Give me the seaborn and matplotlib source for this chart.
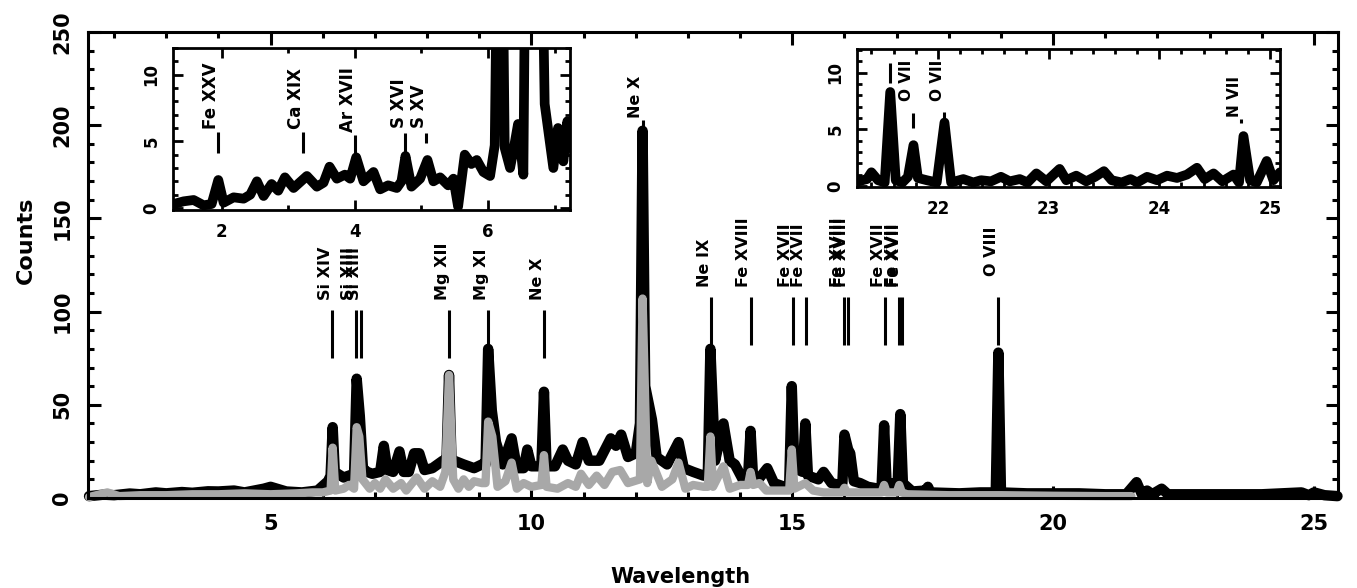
#!/usr/bin/env python3

"""X-ray spectrum with line identifications and two zoomed insets."""

import matplotlib

matplotlib.use("Agg")
import matplotlib.pyplot as plt
import seaborn as sns
from matplotlib.ticker import MultipleLocator

sns.set_theme(style="ticks")
plt.rcParams["font.family"] = ["DejaVu Sans"]
plt.rcParams["font.weight"] = "bold"
for key in ("text.color", "axes.labelcolor", "xtick.color", "ytick.color"):
    plt.rcParams[key] = "black"

# main spectrum (black)
wave_obs = [
    1.52, 1.8, 2.0, 2.3, 2.5, 2.8, 3.0, 3.3, 3.5, 3.8, 4.0, 4.3, 4.5, 4.87, 5.0,
    5.3, 5.6, 5.9, 6.1, 6.15, 6.19, 6.23, 6.40, 6.60, 6.65, 6.71, 6.77, 6.85,
    6.95, 7.10, 7.17, 7.24, 7.35, 7.47, 7.55, 7.65, 7.75, 7.85, 7.95, 8.10, 8.30,
    8.37, 8.42, 8.47, 8.52, 8.70, 8.90, 9.05, 9.12, 9.17, 9.24, 9.32, 9.45, 9.62,
    9.72, 9.85, 9.92, 10.0, 10.19, 10.24, 10.29, 10.45, 10.60, 10.70, 10.85,
    10.98, 11.1, 11.3, 11.52, 11.62, 11.72, 11.85, 12.0, 12.08, 12.13, 12.18,
    12.31, 12.40, 12.60, 12.82, 12.92, 13.1, 13.3, 13.38, 13.43, 13.52, 13.68,
    13.80, 13.90, 14.05, 14.15, 14.20, 14.25, 14.35, 14.52, 14.65, 14.85, 14.94,
    14.99, 15.04, 15.20, 15.25, 15.30, 15.40, 15.50, 15.60, 15.75, 15.90, 15.96,
    16.00, 16.07, 16.11, 16.18, 16.30, 16.45, 16.65, 16.71, 16.76, 16.81, 16.95,
    17.02, 17.07, 17.12, 17.30, 17.55, 17.60, 17.65, 18.2, 18.6, 18.9, 18.95,
    19.0, 19.5, 20.0, 20.5, 21.0, 21.4, 21.6, 21.7, 21.8, 21.9, 22.08, 22.2, 23.0,
    24.0, 24.76, 24.9, 25.0, 25.2, 25.45,
]
counts_obs = [
    1.0, 1.8, 1.5, 2.4, 2.0, 3.0, 2.5, 3.2, 2.8, 3.6, 3.5, 4.0, 3.0, 5.0, 6.0,
    3.5, 3.0, 4.0, 9.0, 12, 38, 14, 11, 13, 64, 44, 16, 14,
    13, 14, 28, 15, 14, 25, 14, 14, 24, 24, 15, 16, 20,
    19, 66, 19, 20, 18, 16, 18, 18, 80, 47, 30, 18, 32,
    16, 16, 26, 17, 17, 57, 17, 17, 26, 20, 18,
    30, 20, 20, 32, 28, 34, 22, 24, 40, 197, 60,
    42, 22, 18, 30, 16, 14, 12, 12, 80, 20, 40,
    20, 18, 10, 10, 36, 10, 10, 16, 8, 6, 7,
    60, 16, 14, 40, 12, 11, 10, 14, 8, 7, 8,
    34, 26, 24, 9, 8, 6, 5, 5, 39, 6, 8,
    8, 45, 8, 3.5, 4, 6, 3, 2.5, 3, 3, 78,
    3, 2.5, 2.5, 2.5, 2, 2, 8.5, 2, 4, 2, 5, 2, 2,
    2, 3, 1.5, 3, 1.5, 1.0,
]

# model spectrum (grey)
wave_model = [
    1.52, 1.87, 2.1, 2.5, 3.0, 3.5, 4.0, 4.5, 5.0, 5.5, 5.8, 6.0, 6.15, 6.19, 6.24,
    6.4, 6.5, 6.6, 6.65, 6.70, 6.76, 6.9, 7.0, 7.1, 7.2, 7.35, 7.5, 7.6, 7.8,
    7.95, 8.1, 8.25, 8.35, 8.42, 8.50, 8.60, 8.70, 8.8, 8.9, 9.05, 9.12, 9.17,
    9.25, 9.35, 9.5, 9.62, 9.72, 9.85, 10.0, 10.19, 10.24, 10.29, 10.5, 10.7,
    10.85, 10.95, 11.1, 11.25, 11.4, 11.55, 11.7, 11.85, 12.08, 12.13, 12.22,
    12.3, 12.4, 12.5, 12.7, 12.82, 12.95, 13.1, 13.3, 13.38, 13.43, 13.48, 13.68,
    13.8, 14.0, 14.15, 14.20, 14.25, 14.37, 14.5, 14.94, 14.99, 15.04, 15.25,
    15.4, 15.6, 15.95, 16.0, 16.05, 16.5, 16.71, 16.76, 16.81, 17.0, 17.05, 17.1,
    17.2, 18.0, 19.0, 20.0, 21.0, 21.5,
]
counts_model = [
    0.5, 3.0, 1.0, 1.5, 1.5, 2.0, 2.0, 2.5, 2.0, 2.5, 3.0, 3.0, 4.0, 27, 4.0,
    5, 7, 5, 38, 33, 10, 5, 8, 5, 10, 5, 8, 4, 11,
    5, 9, 6, 14, 66, 10, 5, 10, 6, 9, 8, 8, 41,
    33, 6, 9, 19, 5, 8, 6, 7, 23, 6, 5, 8,
    6, 13, 7, 12, 7, 14, 15, 8, 10, 107, 8,
    20, 13, 6, 10, 19, 5, 7, 6, 6, 33, 6, 17,
    5, 7, 7, 14, 7, 8, 4, 4, 26, 5, 8,
    4, 3, 3, 5.5, 3, 3, 3, 7, 3, 3, 7, 3,
    2, 1.5, 1.5, 1.2, 1.0, 1.0,
]

# short-wavelength inset
wave_short = [
    1.28, 1.43, 1.58, 1.73, 1.85, 1.95, 2.03, 2.18, 2.33, 2.43, 2.53, 2.63, 2.75,
    2.85, 2.95, 3.08, 3.28, 3.43, 3.53, 3.62, 3.73, 3.85, 3.93, 4.02, 4.13, 4.28,
    4.38, 4.50, 4.63, 4.70, 4.76, 4.85, 4.98, 5.09, 5.18, 5.28, 5.40, 5.48, 5.55,
    5.65, 5.75, 5.83, 5.93, 6.03, 6.10, 6.18, 6.25, 6.33, 6.38, 6.45, 6.53, 6.63,
    6.70, 6.78, 6.85, 6.98, 7.05, 7.13, 7.19, 7.23,
]
counts_short = [
    0.3, 0.5, 0.6, 0.2, 0.3, 2.1, 0.4, 0.8, 0.7, 1.0, 2.0, 0.9, 1.8,
    1.3, 2.3, 1.5, 2.4, 1.6, 1.9, 3.1, 2.2, 2.5, 2.2, 3.8, 2.0, 2.7,
    1.4, 1.7, 1.5, 2.0, 3.9, 1.6, 2.2, 3.6, 2.0, 2.3, 1.7, 2.2, 0.1,
    4.0, 3.3, 3.6, 2.7, 2.4, 4.7, 38, 4.5, 3.0, 4.3, 6.3, 2.5, 64,
    44, 30, 7.8, 3.0, 6.0, 3.5, 6.5, 4.5,
]

# long-wavelength inset
wave_long = [
    21.28, 21.36, 21.40, 21.46, 21.52, 21.57, 21.62, 21.68, 21.73, 21.78, 21.82,
    21.90, 21.99, 22.06, 22.12, 22.23, 22.32, 22.39, 22.48, 22.57, 22.65, 22.74,
    22.81, 22.89, 22.98, 23.10, 23.16, 23.25, 23.34, 23.42, 23.50, 23.57, 23.66,
    23.74, 23.80, 23.89, 23.98, 24.07, 24.16, 24.25, 24.34, 24.41, 24.49, 24.57,
    24.67, 24.72, 24.76, 24.82, 24.88, 24.97, 25.03, 25.09,
]
counts_long = [
    0.4, 0.6, 1.2, 0.5, 0.3, 8.3, 0.5, 0.3, 0.8, 3.6, 0.7,
    0.5, 0.3, 5.6, 0.3, 0.6, 0.3, 0.5, 0.4, 0.8, 0.4, 0.6,
    0.3, 1.1, 0.4, 1.5, 0.5, 0.9, 0.4, 0.8, 1.3, 0.5, 0.3,
    0.6, 0.3, 0.8, 0.5, 0.9, 0.7, 1.0, 1.6, 0.6, 1.1, 0.4,
    1.0, 0.3, 4.4, 0.5, 0.3, 2.2, 0.5, 1.2,
]

# line identifications: name, wavelength, tick bottom, tick top, text start
lines_main = [
    ("Si XIV", 6.18, 75, 101, 106), ("Si XIII", 6.63, 75, 101, 106),
    ("Si XIII", 6.74, 75, 101, 106), ("Mg XII", 8.42, 75, 101, 106),
    ("Mg XI", 9.17, 75, 101, 106), ("Ne X", 10.24, 75, 101, 106),
    ("Ne X", 12.13, 198, 203, 204), ("Ne IX", 13.45, 82, 108, 113),
    ("Fe XVIII", 14.20, 82, 108, 113), ("Fe XVII", 15.01, 82, 108, 113),
    ("Fe XVII", 15.26, 82, 108, 113), ("Fe XVIII", 16.00, 82, 108, 113),
    ("Fe XVIII", 16.07, 82, 108, 113), ("Fe XVII", 16.78, 82, 108, 113),
    ("Fe XVII", 17.05, 82, 108, 113), ("Fe XVII", 17.10, 82, 108, 113),
    ("O VIII", 18.95, 82, 108, 119),
]
lines_short = [
    ("Fe XXV", 1.95, 4.1, 5.7, 5.9), ("Ca XIX", 3.22, 4.1, 5.7, 5.9),
    ("Ar XVII", 4.00, 3.8, 5.5, 5.7), ("S XVI", 4.76, 4.1, 5.6, 6.0),
    ("S XV", 5.07, 4.9, 5.6, 6.0),
]
lines_long = [
    ("", 21.57, 9.1, 10.9, 11.0), ("O VII", 21.78, 5.1, 6.4, 7.5),
    ("O VII", 22.06, 5.8, 6.5, 7.5), ("N VII", 24.74, 5.6, 5.9, 6.1),
]

W, H = 1357, 588
fig = plt.figure(figsize=(W / 100, H / 100), dpi=100)


def px_axes(left, top, right, bottom):
    return fig.add_axes([left / W, 1 - bottom / H, (right - left) / W, (bottom - top) / H])


def style_axes(ax, size, major, minor, tick_len, width):
    for spine in ax.spines.values():
        spine.set_linewidth(width)
        spine.set_color("black")
    ax.tick_params(which="both", direction="in", top=True, right=True,
                   width=width, color="black", labelcolor="black",
                   labelsize=size, pad=size * 0.75)
    ax.tick_params(which="major", length=tick_len)
    ax.tick_params(which="minor", length=tick_len * 0.5)
    ax.tick_params(axis="y", labelrotation=90)
    ax.xaxis.set_major_locator(MultipleLocator(major[0]))
    ax.xaxis.set_minor_locator(MultipleLocator(minor[0]))
    ax.yaxis.set_major_locator(MultipleLocator(major[1]))
    ax.yaxis.set_minor_locator(MultipleLocator(minor[1]))
    for lab in ax.get_yticklabels():
        lab.set_va("center")
    ax.set_xlabel("")
    ax.set_ylabel("")


def mark_lines(ax, lines, size):
    for name, wl, y0, y1, yt in lines:
        ax.vlines(wl, y0, y1, color="black", lw=2.2, zorder=5)
        if name:
            ax.annotate(name, xy=(wl, yt), xytext=(-5, 0), textcoords="offset points",
                        rotation=90, ha="center", va="bottom", fontsize=size,
                        fontweight="bold", color="black", zorder=5)


line_kw = dict(estimator=None, sort=False, solid_capstyle="round", solid_joinstyle="round")

# main panel
ax = px_axes(88, 32, 1338, 498)
sns.lineplot(x=wave_obs, y=counts_obs, ax=ax, color="black", lw=7.5, clip_on=False, **line_kw)
sns.lineplot(x=wave_model, y=counts_model, ax=ax, color="#a8a8a8", lw=6, clip_on=False, **line_kw)
ax.set_xlim(1.5, 25.46)
ax.set_ylim(0, 250)
style_axes(ax, 15, (5, 50), (1, 10), 9, 2.2)
mark_lines(ax, lines_main, 11.5)
ax.set_xlabel("Wavelength", fontsize=15, fontweight="bold", color="black")
ax.set_ylabel("Counts", fontsize=16, fontweight="bold", color="black")
ax.xaxis.set_label_coords(0.474, -0.148)
ax.yaxis.set_label_coords(-0.042, 0.554)

# short-wavelength inset
ax1 = px_axes(173, 48, 570, 210)
ax1.set_facecolor("white")
sns.lineplot(x=wave_short, y=counts_short, ax=ax1, color="black", lw=7, **line_kw)
ax1.set_xlim(1.27, 7.23)
ax1.set_ylim(-0.15, 12.0)
style_axes(ax1, 12, (2, 5), (1, 1), 7, 2)
mark_lines(ax1, lines_short, 12)

# long-wavelength inset
ax2 = px_axes(857, 49, 1280, 187)
ax2.set_facecolor("white")
sns.lineplot(x=wave_long, y=counts_long, ax=ax2, color="black", lw=7, **line_kw)
ax2.set_xlim(21.27, 25.09)
ax2.set_ylim(-0.1, 12.1)
style_axes(ax2, 12, (1, 5), (0.2, 1), 7, 2)
mark_lines(ax2, lines_long, 11)

fig.savefig("out.png", dpi=100, facecolor="white")
